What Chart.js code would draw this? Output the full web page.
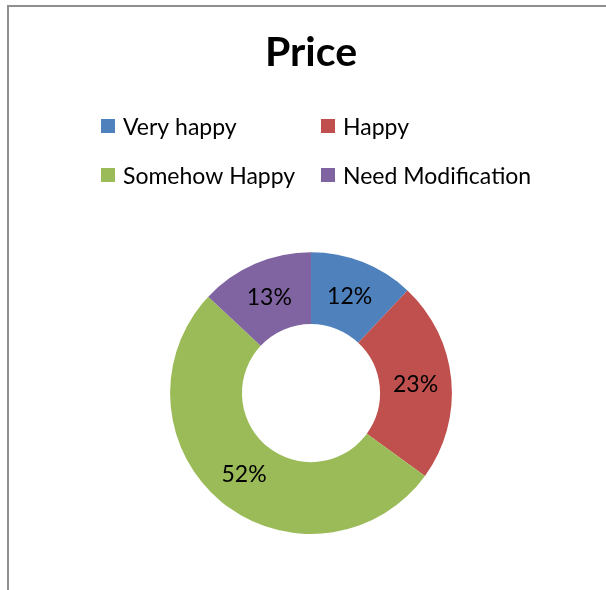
<!DOCTYPE html>
<html>
<head>
<meta charset="utf-8">
<script src="https://cdn.jsdelivr.net/npm/chart.js@4/dist/chart.umd.min.js"></script>
<style>
  html, body { margin: 0; padding: 0; background: #ffffff; }
  #wrap { position: relative; width: 606px; height: 590px; }
</style>
</head>
<body>
<div id="wrap"><canvas id="c" width="606" height="590"></canvas></div>
<script>
const categories = ["Very happy", "Happy", "Somehow Happy", "Need Modification"];
const values = [12, 23, 52, 13];
const colors = ["#4F81BD", "#C0504D", "#9BBB59", "#8064A2"];
const chartTitle = "Price";

const framePlugin = {
  id: 'frame',
  beforeDraw(chart) {
    const ctx = chart.ctx;
    ctx.save();
    ctx.fillStyle = '#8f8f8f';
    ctx.fillRect(7, 5, 2, chart.height - 5);
    ctx.fillRect(7, 5, chart.width - 7, 2);
    ctx.restore();
  }
};

const gridLegendPlugin = {
  id: 'gridLegend',
  afterDraw(chart) {
    const ctx = chart.ctx;
    const labels = chart.data.labels;
    const bg = chart.data.datasets[0].backgroundColor;
    const colX = [101, 321];
    const rowY = [119, 168];
    const box = 14;
    ctx.save();
    ctx.font = '23px Lato, "Open Sans", sans-serif';
    ctx.textBaseline = 'middle';
    ctx.textAlign = 'left';
    labels.forEach((lab, i) => {
      const x = colX[i % 2];
      const y = rowY[Math.floor(i / 2)];
      ctx.fillStyle = bg[i];
      ctx.fillRect(x, y, box, box);
      ctx.fillStyle = '#000000';
      ctx.fillText(lab, x + 22, y + box / 2 + 2);
    });
    ctx.restore();
  }
};

const sliceLabelPlugin = {
  id: 'sliceLabels',
  afterDatasetsDraw(chart) {
    const ctx = chart.ctx;
    const meta = chart.getDatasetMeta(0);
    const data = chart.data.datasets[0].data;
    const total = data.reduce((a, b) => a + b, 0);
    ctx.save();
    ctx.font = '23px Lato, "Open Sans", sans-serif';
    ctx.fillStyle = '#000000';
    ctx.textAlign = 'center';
    ctx.textBaseline = 'middle';
    meta.data.forEach((arc, i) => {
      const p = arc.tooltipPosition();
      const pct = Math.round(data[i] / total * 100) + '%';
      ctx.fillText(pct, p.x, p.y + 1);
    });
    ctx.restore();
  }
};

new Chart(document.getElementById('c'), {
  type: 'doughnut',
  data: {
    labels: categories,
    datasets: [{
      data: values,
      backgroundColor: colors,
      borderWidth: 0,
      hoverOffset: 0
    }]
  },
  options: {
    responsive: false,
    animation: false,
    cutout: '49%',
    layout: { padding: { top: 0, bottom: 56, left: 24, right: 8 } },
    plugins: {
      legend: { display: false },
      tooltip: { enabled: false },
      title: {
        display: true,
        text: chartTitle,
        color: '#000000',
        font: { family: 'Lato, "Open Sans", sans-serif', size: 41, weight: 'bold', lineHeight: 1.2 },
        padding: { top: 28, bottom: 175 }
      }
    }
  },
  plugins: [framePlugin, gridLegendPlugin, sliceLabelPlugin]
});
</script>
</body>
</html>
